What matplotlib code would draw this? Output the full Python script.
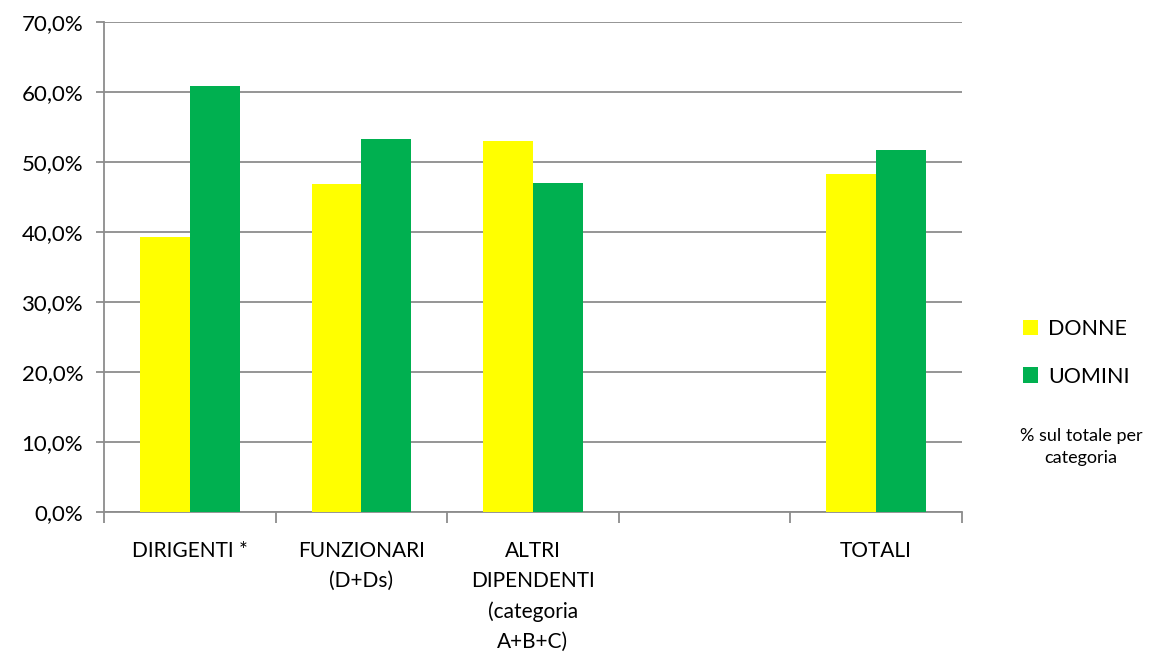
import numpy as np
import matplotlib.pyplot as plt
from matplotlib.ticker import FuncFormatter, FixedLocator

plt.rcParams['font.family'] = ['Lato', 'DejaVu Sans']

# percentuali sul totale per categoria
categorie = ['DIRIGENTI *', 'FUNZIONARI\n(D+Ds)', 'ALTRI\nDIPENDENTI\n(categoria\nA+B+C)', '', 'TOTALI']
donne = [39.2, 46.8, 53.0, np.nan, 48.3]
uomini = [60.8, 53.2, 47.0, np.nan, 51.7]

giallo = '#FFFF00'
verde = '#00B050'
grigio = '#8C8C8C'

fig = plt.figure(figsize=(11.5, 6.59), dpi=100)
ax = fig.add_axes([0.0904, 0.223, 0.746, 0.744])

x = np.arange(len(categorie))
w = 0.29
ax.bar(x - w / 2, donne, w, color=giallo, label='DONNE', zorder=3)
ax.bar(x + w / 2, uomini, w, color=verde, label='UOMINI', zorder=3)

ax.set_xlim(-0.5, len(categorie) - 0.5)
ax.set_ylim(0, 70)
ax.set_yticks(np.arange(0, 71, 10))
ax.yaxis.set_major_formatter(FuncFormatter(lambda v, p: f'{v:.1f}%'.replace('.', ',')))
ax.yaxis.grid(True, color=grigio, linewidth=1.3, zorder=0)

ax.set_xticks(x)
ax.set_xticklabels(categorie, linespacing=1.62, va='top')
ax.xaxis.set_minor_locator(FixedLocator(np.arange(-0.5, len(categorie), 1.0)))
ax.tick_params(axis='x', which='major', length=0, pad=21, labelsize=15)
ax.tick_params(axis='x', which='minor', length=8, color=grigio, width=1.3)
ax.tick_params(axis='y', length=6, color=grigio, width=1.3, labelsize=16, pad=9)

for s in ['top', 'right']:
    ax.spines[s].set_visible(False)
for s in ['left', 'bottom']:
    ax.spines[s].set_color(grigio)
    ax.spines[s].set_linewidth(1.3)

leg = fig.legend(loc='center left', bbox_to_anchor=(0.873, 0.465), frameon=False,
                 fontsize=15.5, handlelength=0.7, handleheight=0.7,
                 handletextpad=0.45, labelspacing=1.3)
fig.text(0.94, 0.322, '% sul totale per\ncategoria', ha='center', va='center',
         fontsize=13, linespacing=1.45)

fig.savefig('out.png', dpi=100)
